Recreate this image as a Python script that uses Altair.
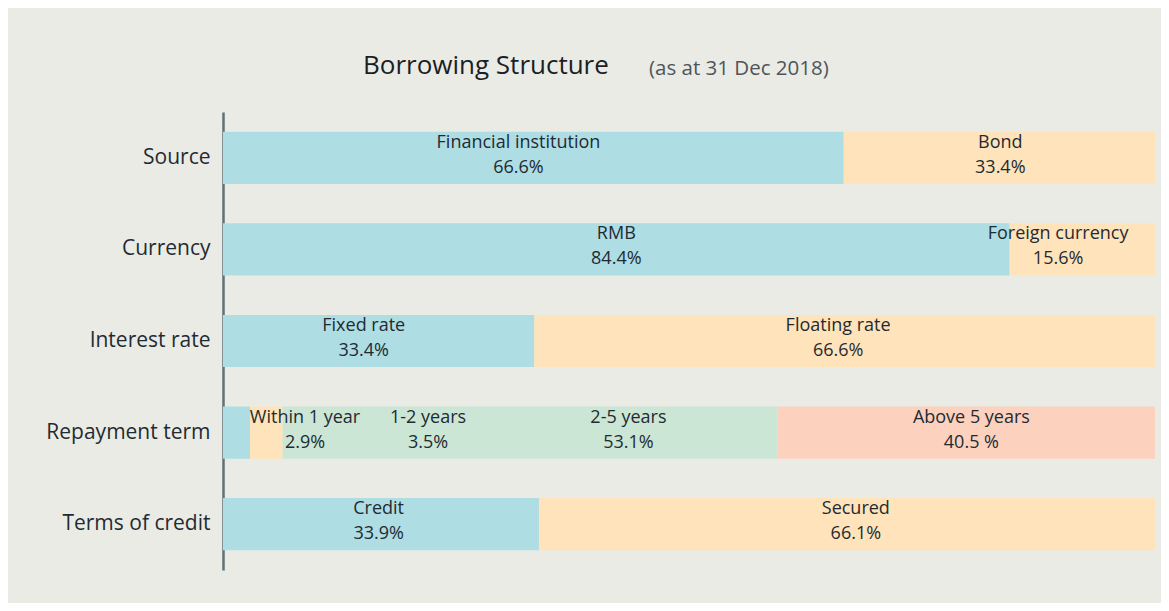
import altair as alt
import pandas as pd

# ---- data ----
rows = ["Source", "Currency", "Interest rate", "Repayment term", "Terms of credit"]

row_of = ["Source", "Source",
          "Currency", "Currency",
          "Interest rate", "Interest rate",
          "Repayment term", "Repayment term", "Repayment term", "Repayment term",
          "Terms of credit", "Terms of credit"]
names = ["Financial institution", "Bond",
         "RMB", "Foreign currency",
         "Fixed rate", "Floating rate",
         "Within 1 year", "1-2 years", "2-5 years", "Above 5 years",
         "Credit", "Secured"]
values = [66.6, 33.4,
          84.4, 15.6,
          33.4, 66.6,
          2.9, 3.5, 53.1, 40.5,
          33.9, 66.1]
pct_text = ["66.6%", "33.4%",
            "84.4%", "15.6%",
            "33.4%", "66.6%",
            "2.9%", "3.5%", "53.1%", "40.5 %",
            "33.9%", "66.1%"]
slot = [0, 1, 0, 1, 0, 1, 0, 1, 2, 3, 0, 1]
# where each label sits along the bar (percent scale)
label_at = [31.7, 83.4,
            42.2, 89.6,
            15.1, 66.0,
            8.8, 22.0, 43.5, 80.3,
            16.7, 67.9]

colors = ["#AEDDE3", "#FFE3BA", "#CBE6D4", "#FCD1BE"]

# ---- table ----
df = pd.DataFrame({"row": row_of, "name": names, "value": values,
                   "pct": pct_text, "slot": slot, "label_at": label_at})
df["end"] = df.groupby("row")["value"].cumsum()
df["start"] = df["end"] - df["value"]
df["label"] = df["name"] + "\n" + df["pct"]

y_enc = alt.Y("row:N", sort=rows, title=None,
              scale=alt.Scale(paddingInner=0.43, paddingOuter=0.215),
              axis=alt.Axis(domain=True, domainColor="#5F7077", domainWidth=2.5,
                            ticks=False, grid=False, labelFontSize=21,
                            labelColor="#1F2B33", labelPadding=13,
                            labelFont="Open Sans"))

x_scale = alt.Scale(domain=[0, 100], nice=False, zero=True)

bars = alt.Chart(df).mark_bar(cornerRadius=0).encode(
    x=alt.X("start:Q", scale=x_scale, axis=None),
    x2="end:Q",
    y=y_enc,
    color=alt.Color("slot:O", scale=alt.Scale(domain=[0, 1, 2, 3], range=colors),
                    legend=None),
)

labels = alt.Chart(df).mark_text(
    lineBreak="\n", fontSize=18, font="Open Sans", color="#1F2B33",
    align="center", baseline="middle", lineHeight=25, dy=-15
).encode(
    x=alt.X("label_at:Q", scale=x_scale, axis=None),
    y=alt.Y("row:N", sort=rows),
    text="label:N",
)

title_df = pd.DataFrame({"t": ["Borrowing Structure"]})
sub_df = pd.DataFrame({"t": ["(as at 31 Dec 2018)"]})

title_txt = alt.Chart(title_df).mark_text(
    fontSize=26, font="Open Sans", color="#1A1F24", align="left",
    baseline="alphabetic"
).encode(x=alt.value(140), y=alt.value(-38), text="t:N")

sub_txt = alt.Chart(sub_df).mark_text(
    fontSize=20.5, font="Open Sans", color="#4D555B", align="left",
    baseline="alphabetic"
).encode(x=alt.value(426), y=alt.value(-37), text="t:N")

chart = alt.layer(bars, labels, title_txt, sub_txt).properties(
    width=932, height=458,
    autosize=alt.AutoSizeParams(type="none"),
    padding={"left": 215, "top": 104, "right": 6, "bottom": 33},
).configure(background="#EBEBE6").configure_view(stroke=None)

chart.save("out.html", embed_options={"renderer": "svg", "actions": False})
